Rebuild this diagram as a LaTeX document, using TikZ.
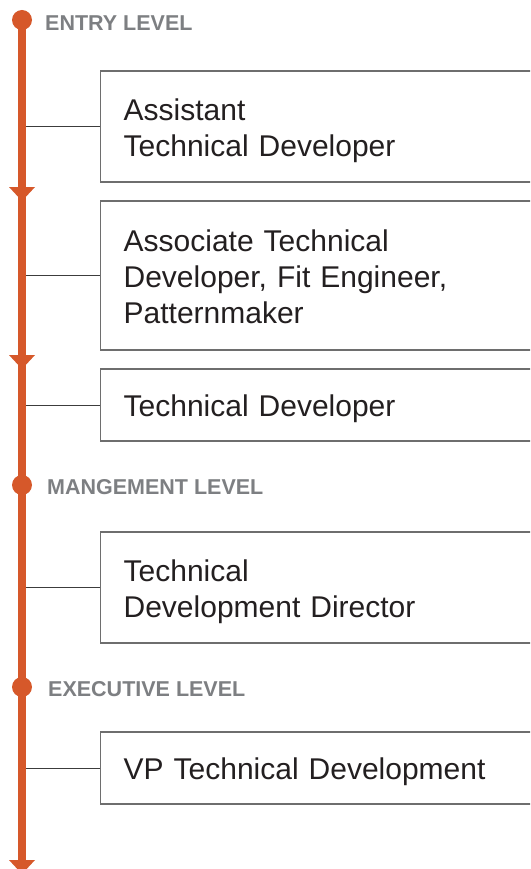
\documentclass[tikz,border=0pt]{standalone}
\usepackage{fontspec}
\setmainfont{Liberation Sans}
\definecolor{spinecol}{RGB}{214,88,42}
\definecolor{headcol}{RGB}{125,127,130}
\definecolor{boxcol}{RGB}{110,110,110}
\definecolor{txtcol}{RGB}{35,31,32}
\definecolor{conncol}{RGB}{60,60,60}
\begin{document}
\begin{tikzpicture}[x=1pt,y=-1pt,
  spine/.style={draw=spinecol,line width=8pt},
  dot/.style={circle,fill=spinecol,minimum size=20pt,inner sep=0pt},
  tip/.style={fill=spinecol},
  levellabel/.style={anchor=base west,inner sep=0pt,text=headcol,font=\fontsize{21.5}{24}\selectfont\bfseries},
  rolebox/.style={draw=boxcol,line width=1.3pt,anchor=west,minimum width=470pt,
    text width=424pt,inner xsep=23pt,inner ysep=0pt,align=left,text=txtcol,
    font=\fontsize{30}{36}\selectfont,text height=22pt},
  conn/.style={draw=conncol,line width=1pt}]
\useasboundingbox (0,0) rectangle (530,869);
\clip (0,0) rectangle (530,869);
% role boxes
\node[rolebox,minimum height=111pt,text depth=34pt] (b1) at (100,126.5) {Assistant\\Technical Developer};
\node[rolebox,minimum height=149pt,text depth=71pt] (b2) at (100,275.5) {Associate Technical\\Developer, Fit Engineer,\\Patternmaker};
\node[rolebox,minimum height=72pt,text depth=0pt] (b3) at (100,405) {Technical Developer};
\node[rolebox,minimum height=111pt,text depth=34pt] (b4) at (100,587.5) {Technical\\Development Director};
\node[rolebox,minimum height=72pt,text depth=0pt] (b5) at (100,768) {VP Technical Development};
% spine anchor points
\coordinate (s1) at (22,126.5);
\coordinate (s2) at (22,275.5);
\coordinate (s3) at (22,405);
\coordinate (s4) at (22,587.5);
\coordinate (s5) at (22,768);
\foreach \i in {1,...,5} {\draw[conn] (s\i) -- (b\i.west);}
% spine
\coordinate (top) at (22,20);
\coordinate (bot) at (22,880);
\draw[spine] (top) -- (bot);
\foreach \y in {187,355,860} {\fill[tip] (9,\y) -- (35,\y) -- (22,\y+14) -- cycle;}
% level markers
\node[dot] (d1) at (22,20) {};
\node[dot] (d2) at (22,485) {};
\node[dot] (d3) at (22,687) {};
\node[levellabel] (l1) at (45,31) {ENTRY LEVEL};
\node[levellabel] (l2) at (47,494.5) {MANGEMENT LEVEL};
\node[levellabel] (l3) at (48,696) {EXECUTIVE LEVEL};
\end{tikzpicture}
\end{document}
